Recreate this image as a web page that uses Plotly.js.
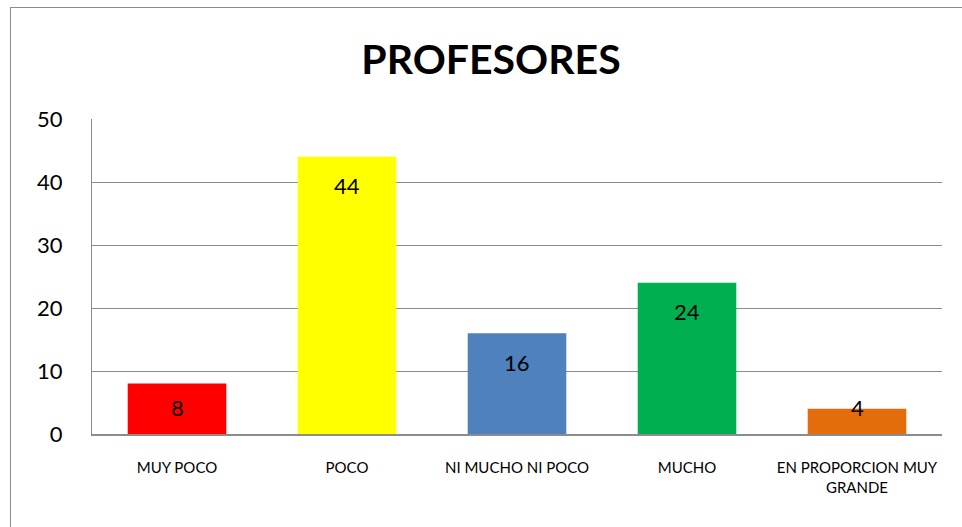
<!DOCTYPE html>
<html>
<head>
<meta charset="utf-8">
<script src="https://cdn.plot.ly/plotly-3.0.1.min.js"></script>
<style>
html,body{margin:0;padding:0;background:#fff;overflow:hidden;}
#chart{width:962px;height:527px;}
#frame{position:absolute;left:10px;top:7px;width:970px;height:540px;border:1px solid #8c8c8c;pointer-events:none;}
</style>
</head>
<body>
<div id="chart"></div>
<div id="frame"></div>
<script>
const categories = ["MUY POCO", "POCO", "NI MUCHO NI POCO", "MUCHO", "EN PROPORCION MUY<br>GRANDE"];
const values = [8, 44, 16, 24, 4];
const colors = ["#FF0000", "#FFFF00", "#4F81BD", "#00B050", "#E46C0A"];
const yTicks = [0, 10, 20, 30, 40, 50];

const FONT = "Lato, 'Open Sans', sans-serif";
const plotH = 527 - 119 - 93;
const pxPerUnit = plotH / 50;

const trace = {
  type: "bar",
  x: categories,
  y: values,
  marker: {color: colors, line: {width: 0}},
  hoverinfo: "none"
};

const annotations = categories.map((c, i) => {
  const barPx = values[i] * pxPerUnit;
  return {
    x: c, y: values[i], xref: "x", yref: "y",
    text: String(values[i]),
    showarrow: false,
    xanchor: "center", yanchor: "middle",
    yshift: -Math.min(29, barPx - 27),
    font: {family: FONT, size: 22, color: "#000"}
  };
});

const layout = {
  width: 962, height: 527,
  margin: {l: 92, r: 20, t: 119, b: 93},
  paper_bgcolor: "#fff", plot_bgcolor: "#fff",
  bargap: 0.42,
  showlegend: false,
  annotations: annotations,
  title: {
    text: "<b>PROFESORES</b>",
    font: {family: FONT, size: 41, color: "#000"},
    x: 491/962, xref: "container", xanchor: "center",
    y: 1 - 60/527, yref: "container", yanchor: "middle"
  },
  xaxis: {
    type: "category",
    showgrid: false,
    showline: true, linecolor: "#8c8c8c", linewidth: 2,
    ticks: "",
    tickfont: {family: FONT, size: 15, color: "#000"},
    ticklabelstandoff: 19,
    fixedrange: true
  },
  yaxis: {
    range: [0, 50],
    tickvals: yTicks,
    showgrid: true, gridcolor: "#8c8c8c", gridwidth: 1,
    showline: true, linecolor: "#8c8c8c", linewidth: 1,
    zeroline: false,
    ticks: "",
    tickfont: {family: FONT, size: 22, color: "#000"},
    ticklabelstandoff: 24,
    fixedrange: true
  }
};

Plotly.newPlot("chart", [trace], layout, {staticPlot: true, displayModeBar: false});
</script>
</body>
</html>
